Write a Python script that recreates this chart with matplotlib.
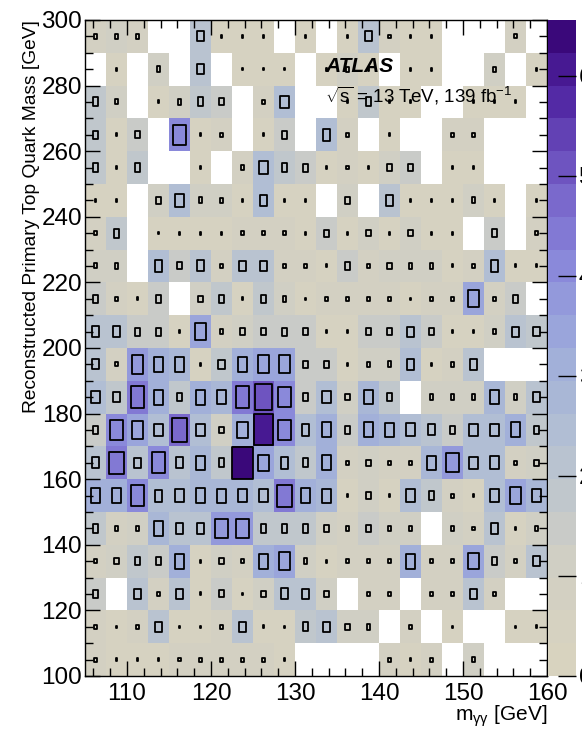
import numpy as np
import matplotlib
matplotlib.use("Agg")
import matplotlib.pyplot as plt
from matplotlib.colors import LinearSegmentedColormap, BoundaryNorm
from matplotlib.patches import Rectangle
from matplotlib.collections import PatchCollection
from matplotlib.ticker import MultipleLocator, NullLocator

plt.rcParams['font.family'] = ['Liberation Sans', 'DejaVu Sans']
plt.rcParams['mathtext.fontset'] = 'custom'
plt.rcParams['mathtext.rm'] = 'Liberation Sans'
plt.rcParams['mathtext.it'] = 'Liberation Sans:italic'
plt.rcParams['mathtext.bf'] = 'Liberation Sans:bold'

# binning
myy_edges = np.arange(105.0, 160.01, 2.5)     # m_yy [GeV]
mtop_edges = np.arange(100.0, 300.01, 10.0)   # top-quark mass [GeV]

# bin contents, one list per m_top row, from 290-300 GeV down to 100-110 GeV
row_295 = [0.9, 1.1, 0.9, 0, 0, 2.0, 0.6, 0.6, 0.6, 0, 0.6, 0, 0.6, 2.0, 0.7, 0.6, 0.6, 0, 0, 0, 0.8, 0]
row_285 = [0, 0.6, 0, 1.2, 0, 2.0, 0, 0.5, 0.5, 0.5, 0, 0.6, 1.0, 0.6, 0, 0.6, 0.6, 0, 0, 1.0, 0, 0.6]
row_275 = [1.8, 1.0, 0, 0.6, 1.2, 1.8, 1.4, 0, 0.8, 2.5, 0, 0, 0.6, 1.8, 0.6, 0.6, 0, 0, 0.6, 0.6, 0.6, 0]
row_265 = [1.7, 0.6, 1.4, 0, 4.0, 0.6, 0.8, 0, 0.6, 1.6, 0, 2.3, 0.9, 0, 0.6, 0, 0, 0.9, 0.9, 0, 0, 0]
row_255 = [1.7, 0.6, 1.7, 0, 0, 0.6, 0, 0.9, 2.6, 1.8, 1.6, 0.6, 0.7, 0.5, 1.3, 1.5, 0, 0.6, 0.6, 0, 0, 0]
row_245 = [0.6, 0.6, 0, 1.3, 2.5, 1.2, 1.1, 0.6, 2.3, 0.5, 0.6, 0, 1.3, 0, 2.1, 0.6, 0.6, 0.6, 1.2, 0.6, 0, 0.6]
row_235 = [0.8, 1.8, 0, 0.5, 0.6, 0.6, 0.6, 0.8, 0.7, 0.7, 0.6, 1.4, 0.6, 1.3, 0.6, 1.3, 0.6, 0.6, 0, 1.5, 0, 0.7]
row_225 = [1.0, 1.1, 0, 2.4, 1.4, 2.2, 0.7, 2.1, 2.0, 0.7, 0.7, 0.6, 1.6, 0.8, 1.3, 1.1, 1.1, 0.6, 0.8, 2.4, 0.6, 0.6]
row_215 = [1.6, 0.8, 0.6, 1.6, 0, 1.3, 1.7, 0.6, 1.7, 1.1, 0.5, 0.8, 0.8, 0.8, 0.7, 0.5, 0.8, 0.9, 3.4, 0.7, 1.5, 0]
row_205 = [2.2, 2.2, 1.6, 1.6, 0.6, 3.4, 0.9, 1.3, 1.4, 1.6, 1.4, 0.6, 0.5, 1.4, 1.5, 2.0, 1.5, 0.6, 0.5, 1.1, 2.0, 1.9]
row_195 = [2.0, 0.8, 3.7, 3.0, 2.9, 0.6, 1.9, 3.0, 3.6, 3.6, 1.5, 1.5, 0.6, 1.1, 1.2, 2.3, 0.6, 0.9, 2.2, 0, 0, 0]
row_185 = [2.5, 1.9, 4.3, 3.0, 1.7, 3.0, 2.7, 4.3, 5.2, 4.0, 1.5, 2.5, 1.3, 2.9, 1.7, 0, 1.1, 1.1, 1.2, 2.8, 1.1, 2.1]
row_175 = [1.6, 4.0, 3.5, 2.5, 4.8, 2.5, 1.3, 3.2, 6.2, 4.0, 2.3, 3.0, 1.5, 3.0, 2.8, 2.6, 2.2, 1.6, 2.5, 2.5, 3.0, 1.7]
row_165 = [2.2, 4.5, 2.0, 4.2, 2.2, 2.8, 1.8, 6.4, 3.3, 2.4, 1.8, 3.0, 0.9, 1.3, 0.8, 0.9, 2.8, 3.8, 2.5, 2.6, 0.7, 1.3]
row_155 = [3.0, 3.0, 4.2, 2.4, 2.6, 2.9, 2.8, 2.7, 2.6, 4.4, 3.1, 2.8, 0.6, 1.3, 0.6, 2.6, 1.8, 0.8, 0.6, 2.5, 3.5, 2.7]
row_145 = [1.7, 0.9, 1.0, 2.9, 2.1, 2.1, 3.8, 3.8, 1.8, 1.8, 1.8, 1.3, 0.9, 1.5, 1.0, 1.1, 0, 1.1, 0.7, 2.1, 0.6, 1.1]
row_135 = [0.9, 1.3, 1.7, 1.5, 3.0, 0.6, 1.3, 0.8, 3.0, 3.6, 1.1, 0.6, 0.7, 0.7, 0.9, 3.0, 0.8, 0.7, 3.3, 1.5, 0.9, 2.0]
row_125 = [1.5, 0, 2.0, 0.9, 2.0, 0.6, 1.4, 0.5, 1.3, 2.2, 2.0, 1.3, 0, 0.9, 0.7, 0, 0.8, 0.9, 2.0, 0.8, 0, 0]
row_115 = [0.8, 0.5, 0.8, 2.0, 0.5, 0.5, 0.9, 2.0, 0.6, 0.5, 1.8, 2.0, 1.3, 1.1, 0, 0.9, 0, 0.5, 0, 0, 0.5, 0.6]
row_105 = [0.8, 0.5, 0.6, 0.5, 0.7, 0.8, 0.8, 0.8, 0.8, 0.5, 0, 0, 0, 0, 0.8, 0.5, 0.8, 0, 1.0, 0, 0, 0]

rows_top_down = [row_295, row_285, row_275, row_265, row_255, row_245, row_235,
                 row_225, row_215, row_205, row_195, row_185, row_175, row_165,
                 row_155, row_145, row_135, row_125, row_115, row_105]
counts = np.array(rows_top_down[::-1], dtype=float)

z_max = 6.56
n_contours = 20
z_ticks = [0, 1, 2, 3, 4, 5, 6]

# palette: beige -> grey-blue -> violet
anchors = [(0.0, '#d8d3bf'), (1.0, '#d1cfc4'), (1.7, '#c1c7cc'), (2.3, '#b3c0d3'),
           (3.0, '#a4b2d8'), (3.6, '#97a1dc'), (4.2, '#8986da'), (4.8, '#7a6acc'),
           (5.4, '#6647b8'), (6.0, '#4e22a0'), (6.56, '#3a087a')]
cmap = LinearSegmentedColormap.from_list(
    'atlas_violet', [(v / z_max, c) for v, c in anchors], N=256)
levels = np.linspace(0, z_max, n_contours + 1)
norm = BoundaryNorm(levels, cmap.N)

W, H = 582, 729
fig = plt.figure(figsize=(W / 100, H / 100), dpi=100)
ax = fig.add_axes([85 / W, 1 - 676 / H, 462 / W, 656 / H])

masked = np.ma.masked_where(counts <= 0, counts)
mesh = ax.pcolormesh(myy_edges, mtop_edges, masked, cmap=cmap, norm=norm)

# boxes with linear size scaling
xc = 0.5 * (myy_edges[:-1] + myy_edges[1:])
yc = 0.5 * (mtop_edges[:-1] + mtop_edges[1:])
dx = myy_edges[1] - myy_edges[0]
dy = mtop_edges[1] - mtop_edges[0]
boxes = []
for j, y in enumerate(yc):
    for i, x in enumerate(xc):
        v = counts[j, i]
        if v > 0:
            f = v / z_max
            boxes.append(Rectangle((x - 0.5 * f * dx, y - 0.5 * f * dy), f * dx, f * dy))
ax.add_collection(PatchCollection(boxes, facecolor='none', edgecolor='black',
                                  linewidth=1.3, zorder=3))

ax.set_xlim(105, 160)
ax.set_ylim(100, 300)
ax.xaxis.set_major_locator(MultipleLocator(10))
ax.xaxis.set_minor_locator(MultipleLocator(2))
ax.yaxis.set_major_locator(MultipleLocator(20))
ax.yaxis.set_minor_locator(MultipleLocator(5))
ax.tick_params(which='both', direction='in', top=True, right=True,
               labelsize=17.5, width=1, zorder=5)
ax.tick_params(which='major', length=11)
ax.tick_params(which='minor', length=6)
ax.tick_params(axis='x', pad=5)
ax.tick_params(axis='y', pad=2)
for s in ax.spines.values():
    s.set_linewidth(1)
    s.set_zorder(6)

ax.set_xlabel(r'm$_{\mathrm{\gamma\gamma}}$ [GeV]', fontsize=15, loc='right')
ax.xaxis.set_label_coords(1.0, -0.042)
ax.set_ylabel('Reconstructed Primary Top Quark Mass [GeV]', fontsize=13.8, loc='top')
ax.yaxis.set_label_coords(-0.098, 1.0)

ax.text(0.52, 0.921, 'ATLAS', transform=ax.transAxes, fontsize=15,
        fontweight='bold', fontstyle='italic', va='baseline', zorder=7)
ax.text(0.52, 0.874, r'$\sqrt{\mathrm{s}}$ = 13 TeV, 139 fb$^{-1}$',
        transform=ax.transAxes, fontsize=13.5, va='baseline', zorder=7)

cax = fig.add_axes([548 / W, 1 - 676 / H, 28 / W, 656 / H])
cb = fig.colorbar(mesh, cax=cax, ticks=z_ticks)
cb.outline.set_visible(False)
cax.yaxis.set_minor_locator(NullLocator())
cax.tick_params(direction='in', length=13, width=1, labelsize=17.5, pad=2)

fig.savefig('out.png', dpi=100)
